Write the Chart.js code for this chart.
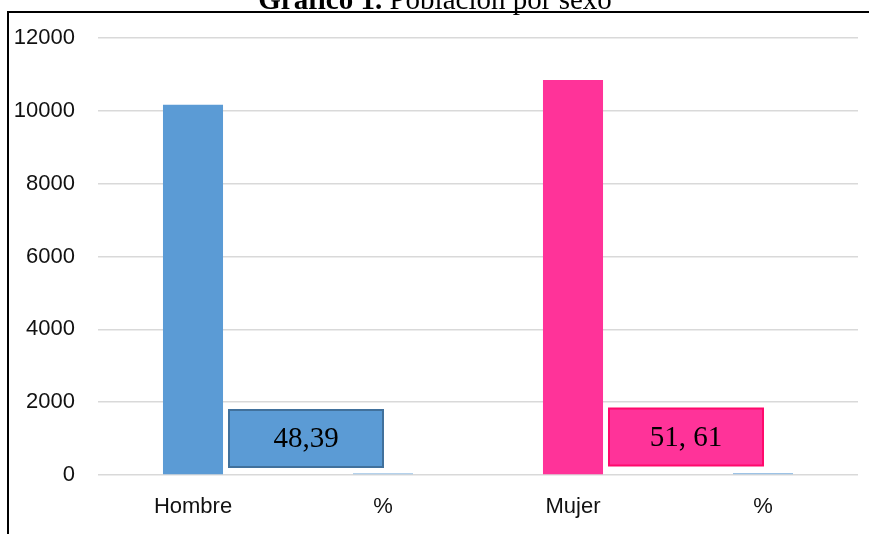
<!DOCTYPE html>
<html>
<head>
<meta charset="utf-8">
<script src="https://cdn.jsdelivr.net/npm/chart.js@4"></script>
<style>
  html, body { margin: 0; padding: 0; background: #fff; }
  #wrap { width: 869px; height: 534px; position: relative; }
</style>
</head>
<body>
<div id="wrap"><canvas id="grafico"></canvas></div>
<script>
// datos del gráfico
const categorias = ["Hombre", "%", "Mujer", "%"];
const valores = [10170, 48.39, 10850, 51.61];
const coloresBarra = ["#5b9bd5", "#9dc3e6", "#ff3399", "#9dc3e6"];
const etiquetasCaja = ["", "48,39", "", "51, 61"];
const cajaRelleno = ["", "#5b9bd5", "", "#ff3399"];
const cajaBorde = ["", "#41719c", "", "#ff0a6c"];
const ticksY = [0, 2000, 4000, 6000, 8000, 10000, 12000];

const marcoYTitulo = {
    id: "marcoYTitulo",
    afterDraw(chart) {
        const ctx = chart.ctx;
        ctx.save();
        // título cortado arriba
        const parteNegrita = "Gráfico 1.";
        const parteNormal = " Población por sexo";
        ctx.fillStyle = "#000";
        ctx.textBaseline = "alphabetic";
        ctx.font = "bold 29px 'Liberation Serif', 'Times New Roman', serif";
        const w1 = ctx.measureText(parteNegrita).width;
        ctx.font = "29px 'Liberation Serif', 'Times New Roman', serif";
        const w2 = ctx.measureText(parteNormal).width;
        const x0 = 435 - (w1 + w2) / 2;
        ctx.font = "bold 29px 'Liberation Serif', 'Times New Roman', serif";
        ctx.textAlign = "left";
        ctx.fillText(parteNegrita, x0, 8.5);
        ctx.font = "29px 'Liberation Serif', 'Times New Roman', serif";
        ctx.fillText(parteNormal, x0 + w1, 8.5);

        // marco
        ctx.strokeStyle = "#000";
        ctx.lineWidth = 2;
        ctx.beginPath();
        ctx.moveTo(8, 534);
        ctx.lineTo(8, 12);
        ctx.lineTo(869, 12);
        ctx.stroke();

        // cajas de porcentaje
        const meta = chart.getDatasetMeta(0);
        const yBase = chart.scales.y.getPixelForValue(0);
        meta.data.forEach((bar, i) => {
            if (!etiquetasCaja[i]) return;
            const cx = bar.x - 77;
            const w = 154, h = 57;
            const top = yBase - 65 + (i === 3 ? -1.5 : 0);
            ctx.fillStyle = cajaRelleno[i];
            ctx.fillRect(cx - w / 2, top, w, h);
            ctx.strokeStyle = cajaBorde[i];
            ctx.lineWidth = 2;
            ctx.strokeRect(cx - w / 2, top, w, h);
            ctx.fillStyle = "#000";
            ctx.font = "29px 'Liberation Serif', 'Times New Roman', serif";
            ctx.textAlign = "center";
            ctx.textBaseline = "middle";
            ctx.fillText(etiquetasCaja[i], cx, top + h / 2 + 1);
        });
        ctx.restore();
    }
};

const ctx = document.getElementById("grafico").getContext("2d");
new Chart(ctx, {
    type: "bar",
    data: {
        labels: categorias,
        datasets: [{
            label: "Población",
            data: valores,
            backgroundColor: coloresBarra,
            barPercentage: 0.316,
            categoryPercentage: 1
        }]
    },
    options: {
        responsive: true,
        maintainAspectRatio: false,
        animation: false,
        layout: { padding: { top: 38, right: 11, left: 0, bottom: 0 } },
        plugins: {
            legend: { display: false },
            tooltip: { enabled: false },
            title: { display: false }
        },
        scales: {
            y: {
                min: 0,
                max: 12000,
                afterBuildTicks: s => { s.ticks = ticksY.map(v => ({ value: v })); },
                afterFit: s => { s.width = 98; },
                border: { display: false },
                grid: { color: "#d9d9d9", lineWidth: 1.5, drawTicks: false },
                ticks: {
                    padding: 23,
                    color: "#111",
                    callback: v => String(v),
                    font: { family: "'Liberation Sans', Arial, sans-serif", size: 22 }
                }
            },
            x: {
                afterFit: s => { s.height = 59; },
                border: { display: false },
                grid: { display: false, drawTicks: false },
                ticks: {
                    padding: 19,
                    color: "#111",
                    font: { family: "'Liberation Sans', Arial, sans-serif", size: 22 }
                }
            }
        }
    },
    plugins: [marcoYTitulo]
});
</script>
</body>
</html>
